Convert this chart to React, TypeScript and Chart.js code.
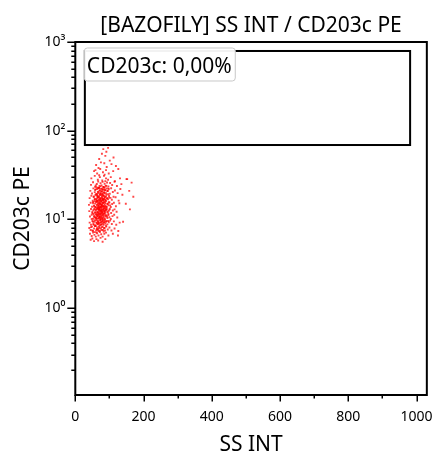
import React, { useEffect, useRef } from "react";
import { Chart, registerables } from "chart.js";

Chart.register(...registerables);

const chartTitle = "[BAZOFILY] SS INT / CD203c PE";
const xAxisTitle = "SS INT";
const yAxisTitle = "CD203c PE";

const xMajorTicks = [0, 200, 400, 600, 800, 1000];
const xMinorTicks = [100, 300, 500, 700, 900];
const yMajorTicks = [1, 10, 100, 1000];
const yTickLabels = ["10⁰", "10¹", "10²", "10³"];
const yMinorMultipliers = [2, 3, 4, 5, 6, 7, 8, 9];
const yDecades = [0.1, 1, 10, 100];
const xRange = [0, 1030];
const yRange = [0.105, 1000];

const gateName = "CD203c: 0,00%";
const gateSsInt = [28, 981];
const gateCd203c = [69, 792];

// Events: SS INT (x) and CD203c PE (y)
const ssInt = [
  82, 91, 96,
  70, 88, 101, 78, 112,
  61, 75, 92, 106, 119, 85, 68,
  55, 64, 73, 81, 90, 98, 111, 126, 86, 59,
  47, 57, 66, 72, 79, 84, 90, 96, 104, 116, 131, 152, 70, 88,
  46, 52, 58, 63, 67, 71, 74, 77, 80, 83, 86, 89, 93, 97, 102, 108, 115, 122, 135, 60,
  44, 49, 53, 57, 60, 63, 66, 68, 71, 73, 75, 77, 79, 81, 83, 85, 87, 90, 92, 95, 98, 101, 105, 110, 116, 124, 132, 69,
  42, 47, 51, 54, 57, 59, 62, 64, 66, 68, 70, 72, 74, 76, 78, 80, 82, 84, 86, 88, 90, 93, 96, 99, 103, 107, 112, 118, 127, 65, 73, 81,
  40, 45, 49, 52, 55, 58, 60, 62, 64, 66, 67, 69, 71, 72, 74, 75, 77, 78, 80, 82, 83, 85, 87, 89, 91, 94, 97, 100, 104, 108, 113, 119, 129, 70, 76,
  41, 46, 50, 53, 56, 58, 61, 63, 65, 67, 68, 70, 72, 73, 75, 76, 78, 79, 81, 82, 84, 86, 88, 90, 92, 95, 98, 101, 105, 110, 115, 121, 69, 77, 85,
  43, 48, 52, 55, 58, 60, 63, 65, 67, 69, 71, 73, 74, 76, 78, 80, 82, 84, 86, 88, 91, 94, 97, 100, 104, 109, 114, 123, 140, 72,
  42, 46, 50, 53, 56, 59, 61, 63, 65, 67, 69, 71, 73, 75, 77, 79, 81, 83, 85, 88, 91, 94, 98, 102, 107, 113, 120, 130,
  41, 45, 49, 52, 55, 58, 61, 64, 66, 69, 72, 75, 78, 81, 84, 87, 91, 95, 100, 106, 115, 126,
  43, 48, 52, 56, 60, 64, 68, 72, 76, 80, 85, 90, 97, 110, 125,
  45, 50, 55, 62, 67, 74, 80, 88,
  150, 165, 158, 170, 148, 160, 138,
];

const cd203c = [
  62, 58, 64,
  48, 52, 46, 55, 50,
  41, 44, 39, 42, 40, 43, 38,
  35, 33, 37, 34, 36, 33, 35, 37, 32, 36,
  29, 31, 28, 30, 27.5, 31, 29, 28, 30, 27, 29, 28.5, 31.5, 27,
  24.5, 26.2, 23.4, 25.1, 26.8, 23.9, 25.6, 24.2, 26.5, 23.2, 25.3, 24.0, 26.1, 23.6, 25.8, 24.4, 26.6, 23.8, 25.0, 24.1,
  21.0, 19.6, 22.4, 20.3, 21.8, 19.4, 22.7, 20.6, 21.3, 19.9, 22.1, 20.8, 19.2, 21.6, 22.9, 20.1, 21.4, 19.7, 22.3, 20.9, 21.9, 19.5, 22.5, 20.4, 21.2, 19.8, 22.0, 22.6,
  17.4, 18.5, 16.3, 17.9, 16.8, 18.7, 17.1, 16.2, 18.3, 17.6, 16.5, 18.9, 17.3, 16.1, 18.1, 17.0, 16.6, 18.6, 17.7, 16.4, 18.2, 17.2, 16.9, 18.4, 17.5, 16.7, 18.0, 17.8, 16.3, 17.9, 16.9, 18.8,
  14.6, 15.4, 13.9, 15.7, 14.3, 15.1, 13.7, 15.9, 14.8, 14.0, 15.5, 14.4, 13.6, 15.2, 14.9, 13.8, 15.8, 14.5, 14.1, 15.3, 13.9, 14.7, 15.6, 14.2, 13.7, 15.0, 14.4, 15.5, 13.8, 14.9, 15.4, 14.1, 15.2, 15.0, 14.2,
  12.4, 13.1, 11.8, 12.7, 13.3, 12.0, 12.9, 11.6, 13.2, 12.3, 11.9, 12.8, 13.4, 12.1, 11.7, 12.6, 13.0, 12.2, 11.6, 12.9, 13.3, 12.4, 11.9, 12.7, 13.1, 12.0, 12.5, 13.2, 11.8, 12.6, 13.0, 12.2, 13.0, 12.4, 11.7,
  10.8, 11.3, 10.2, 11.0, 10.5, 11.4, 10.1, 10.9, 11.2, 10.4, 10.7, 11.4, 10.0, 10.6, 11.1, 10.3, 10.9, 11.3, 10.2, 10.8, 11.0, 10.4, 11.2, 10.6, 10.1, 10.9, 11.3, 10.5, 9.4, 10.5,
  9.2, 8.7, 9.6, 8.9, 9.4, 8.6, 9.8, 9.1, 8.8, 9.5, 9.0, 8.6, 9.7, 9.2, 8.8, 9.4, 9.9, 8.7, 9.3, 9.0, 9.6, 8.8, 9.3, 9.7, 8.9, 9.5, 8.7, 9.2,
  8.0, 7.6, 8.3, 7.4, 7.9, 8.4, 7.5, 8.1, 7.7, 8.3, 7.4, 7.9, 8.2, 7.6, 8.0, 7.5, 8.3, 7.7, 8.1, 7.5, 7.9, 7.4,
  6.9, 6.5, 7.1, 6.7, 6.4, 7.0, 6.6, 7.2, 6.8, 6.4, 6.9, 7.1, 6.6, 6.9, 6.6,
  5.9, 6.1, 5.7, 6.0, 5.8, 6.2, 5.6, 6.0,
  28.5, 26, 21, 18, 15, 13, 19,
];

// Dense core of the population
const coreSsInt = [
  58, 62, 66, 69, 72, 74, 76, 78, 80, 82, 84, 86, 88, 91, 94, 64, 70, 79, 85, 97,
  54, 57, 60, 62, 64, 66, 67, 69, 70, 72, 73, 75, 76, 78, 79, 81, 82, 84, 85, 87, 89, 91, 93, 96, 99, 68, 74, 80, 86, 63,
  52, 55, 57, 59, 61, 63, 64, 66, 67, 68, 70, 71, 72, 73, 75, 76, 77, 79, 80, 81, 83, 84, 86, 88, 90, 92, 95, 98, 102, 65, 69, 74, 78, 82, 87,
  50, 53, 56, 58, 60, 62, 63, 65, 66, 68, 69, 70, 72, 73, 74, 76, 77, 78, 80, 81, 83, 85, 87, 89, 91, 94, 97, 100, 64, 67, 71, 75, 79, 84, 88,
  48, 52, 55, 57, 60, 62, 64, 66, 68, 69, 71, 73, 74, 76, 78, 79, 81, 83, 85, 87, 90, 93, 96, 63, 67, 70, 75, 80, 84, 59,
  46, 50, 54, 57, 60, 63, 66, 68, 71, 74, 77, 80, 83, 86, 90, 62, 69, 76, 58, 65,
];

const coreCd203c = [
  21.5, 23.1, 20.4, 22.6, 21.1, 23.6, 20.7, 22.2, 21.8, 23.3, 20.2, 22.8, 21.3, 23.9, 20.9, 22.0, 23.0, 20.5, 21.7, 22.4,
  18.1, 17.0, 19.3, 16.8, 18.6, 17.5, 19.7, 16.6, 18.2, 17.3, 19.1, 16.9, 18.8, 17.7, 19.5, 16.7, 18.4, 17.1, 19.8, 17.9, 16.5, 18.9, 17.4, 19.2, 17.6, 18.0, 19.4, 17.2, 16.9, 19.0,
  15.2, 14.1, 16.1, 13.8, 15.7, 14.5, 16.3, 13.6, 15.0, 14.3, 16.0, 13.9, 15.5, 14.8, 13.7, 16.2, 14.6, 15.3, 13.9, 16.4, 14.2, 15.8, 14.0, 15.1, 16.1, 13.8, 14.9, 15.6, 14.4, 15.9, 13.7, 16.3, 14.7, 15.4, 13.6,
  12.2, 11.5, 13.0, 11.9, 12.6, 11.2, 13.3, 12.0, 11.4, 12.9, 11.7, 13.1, 12.4, 11.1, 12.8, 11.6, 13.4, 12.1, 11.3, 12.7, 13.2, 11.8, 12.5, 11.2, 13.0, 12.3, 11.6, 12.9, 12.1, 13.3, 11.5, 12.6, 11.9, 12.4, 13.1,
  10.1, 9.4, 10.7, 9.8, 10.4, 9.2, 10.9, 9.6, 10.2, 9.1, 10.6, 9.9, 9.3, 10.8, 9.5, 10.3, 9.0, 10.5, 9.7, 10.0, 9.4, 10.8, 9.6, 10.4, 9.2, 10.9, 10.1, 9.8, 9.3, 10.6,
  8.2, 7.5, 8.7, 7.2, 8.4, 7.8, 8.9, 7.4, 8.1, 8.6, 7.6, 8.3, 7.3, 8.0, 8.5, 7.1, 7.9, 8.8, 8.4, 7.7,
];

const FONT = '"Noto Sans", "DejaVu Sans", sans-serif';

const overlayPlugin = {
  id: "overlay",
  afterDraw(chart: any) {
    const { ctx, chartArea: a } = chart;
    const x = chart.scales.x;
    const y = chart.scales.y;
    ctx.save();
    ctx.strokeStyle = "#000";
    ctx.fillStyle = "#000";

    // x ticks
    ctx.lineWidth = 1.5;
    ctx.beginPath();
    xMajorTicks.forEach((v) => {
      const px = Math.round(x.getPixelForValue(v)) + 0.25;
      ctx.moveTo(px, a.bottom);
      ctx.lineTo(px, a.bottom + 6.5);
    });
    xMinorTicks.forEach((v) => {
      const px = Math.round(x.getPixelForValue(v)) + 0.25;
      ctx.moveTo(px, a.bottom);
      ctx.lineTo(px, a.bottom + 3.5);
    });
    // y ticks
    yMajorTicks.forEach((v) => {
      const py = Math.round(y.getPixelForValue(v)) + 0.25;
      ctx.moveTo(a.left, py);
      ctx.lineTo(a.left - 8, py);
    });
    yDecades.forEach((d) => {
      yMinorMultipliers.forEach((m) => {
        const v = d * m;
        if (v < yRange[0] || v > yRange[1]) return;
        const py = Math.round(y.getPixelForValue(v)) + 0.25;
        ctx.moveTo(a.left, py);
        ctx.lineTo(a.left - 4, py);
      });
    });
    ctx.stroke();

    // frame
    ctx.lineWidth = 2;
    ctx.strokeRect(a.left, a.top, a.right - a.left, a.bottom - a.top);

    // gate
    const gx1 = x.getPixelForValue(gateSsInt[0]);
    const gx2 = x.getPixelForValue(gateSsInt[1]);
    const gy1 = y.getPixelForValue(gateCd203c[1]);
    const gy2 = y.getPixelForValue(gateCd203c[0]);
    ctx.lineWidth = 2;
    ctx.strokeRect(gx1, gy1, gx2 - gx1, gy2 - gy1);

    // gate label
    ctx.font = `21px ${FONT}`;
    const tw = ctx.measureText(gateName).width;
    ctx.beginPath();
    ctx.roundRect(gx1 - 0.5, gy1 - 3, tw + 6, 33, 3);
    ctx.fillStyle = "rgba(255,255,255,0.95)";
    ctx.fill();
    ctx.lineWidth = 1;
    ctx.strokeStyle = "#c8c8c8";
    ctx.stroke();
    ctx.fillStyle = "#000";
    ctx.textAlign = "left";
    ctx.textBaseline = "alphabetic";
    ctx.fillText(gateName, gx1 + 2, gy1 + 22);

    // titles
    const cx = (a.left + a.right) / 2;
    ctx.textAlign = "center";
    ctx.font = `21px ${FONT}`;
    ctx.fillText(chartTitle, cx, 32);
    ctx.font = `21px ${FONT}`;
    ctx.fillText(xAxisTitle, cx, 451);
    ctx.translate(29, (a.top + a.bottom) / 2);
    ctx.rotate(-Math.PI / 2);
    ctx.fillText(yAxisTitle, 0, 0);
    ctx.restore();
  },
};

export default function App() {
  const ref = useRef<HTMLCanvasElement>(null);
  useEffect(() => {
    if (!ref.current) return;
    const points = ssInt.map((v, i) => ({ x: v, y: cd203c[i] }));
    const corePoints = coreSsInt.map((v, i) => ({ x: v, y: coreCd203c[i] }));
    const pointStyle = {
      pointRadius: 1.35,
      pointBorderWidth: 0,
      pointBackgroundColor: "rgba(255,0,0,0.72)",
      pointStyle: "rect" as const,
    };
    const chart = new Chart(ref.current, {
      type: "scatter",
      data: {
        datasets: [
          { data: points, ...pointStyle },
          { data: corePoints, ...pointStyle },
        ],
      },
      options: {
        animation: false,
        responsive: false,
        events: [],
        layout: { padding: { top: 42, right: 13.3, left: 0, bottom: 0 } },
        plugins: {
          legend: { display: false },
          tooltip: { enabled: false },
          title: { display: false },
        },
        scales: {
          x: {
            type: "linear",
            min: xRange[0],
            max: xRange[1],
            afterBuildTicks: (s: any) => {
              s.ticks = xMajorTicks.map((v) => ({ value: v }));
            },
            afterFit: (s: any) => {
              s.height = 60;
            },
            grid: { display: false, drawTicks: true, tickLength: 6 },
            border: { display: false },
            ticks: {
              color: "#000",
              font: { family: FONT, size: 14 },
              padding: 8,
              maxRotation: 0,
              autoSkip: false,
              callback: (value: any) => String(value),
            },
          },
          y: {
            type: "logarithmic",
            min: yRange[0],
            max: yRange[1],
            afterBuildTicks: (s: any) => {
              s.ticks = yMajorTicks.map((v) => ({ value: v }));
            },
            afterFit: (s: any) => {
              s.width = 75.3;
            },
            grid: { display: false, drawTicks: true, tickLength: 8 },
            border: { display: false },
            ticks: {
              color: "#000",
              font: { family: FONT, size: 14 },
              padding: 2,
              autoSkip: false,
              callback: (value: any) => {
                const i = yMajorTicks.indexOf(Number(value));
                return i >= 0 ? yTickLabels[i] : "";
              },
            },
          },
        },
      },
      plugins: [overlayPlugin],
    });
    return () => chart.destroy();
  }, []);
  return (
    <div style={{ position: "absolute", left: 0, top: 0, width: 441, height: 455, background: "#fff" }}>
      <canvas ref={ref} width={441} height={455} style={{ display: "block" }} />
    </div>
  );
}
